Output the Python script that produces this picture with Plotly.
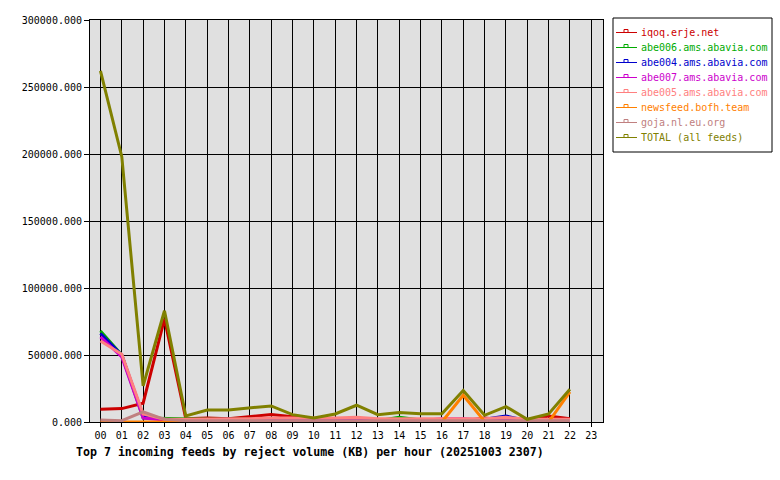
import plotly.graph_objects as go

hours = ["%02d" % h for h in range(24)]

iqoq = [9500, 10000, 14000, 77000, 2500, 3000, 2500, 4000, 5500, 4000, 2500, 2500,
        1500, 1000, 1000, 1000, 1500, 1000, 3000, 1500, 1000, 4500, 2500]
abe006 = [68000, 50000, 3000, 2500, 2500, 2000, 2000, 2000, 2500, 2000, 1500, 1500,
          1500, 1000, 3500, 1500, 1000, 1000, 1500, 1500, 1000, 1000, 1000]
abe004 = [66000, 50000, 4500, 2000, 1500, 1500, 1500, 1500, 2000, 2500, 2500, 1500,
          1500, 1000, 1000, 1000, 1000, 1000, 2000, 4500, 1000, 1000, 1000]
abe007 = [63500, 48500, 3000, 1500, 1500, 2000, 2000, 1500, 1500, 1500, 1000, 1000,
          1000, 1000, 1000, 1000, 2500, 2500, 1500, 1500, 1000, 1000, 1000]
abe005 = [60500, 50500, 6000, 2000, 2000, 2000, 2000, 2500, 3000, 3000, 2500, 3000,
          3500, 2500, 2500, 2500, 2500, 2500, 2500, 3500, 2000, 2000, 2000]
newsfeed = [0, 0, 500, 0, 0, 0, 0, 0, 0, 0, 0, 0,
            0, 0, 0, 0, 0, 20000, 500, 0, 0, 0, 22500]
goja = [1500, 1000, 7500, 2000, 1000, 1000, 1000, 1000, 1000, 1000, 1000, 1000,
        1000, 1000, 1000, 1000, 1000, 1000, 1000, 1000, 1000, 1000, 1000]
total = [262000, 198000, 27000, 83000, 4500, 9000, 9000, 10500, 12000, 5500, 3000, 6000,
         12500, 5500, 7000, 6200, 6200, 23500, 5000, 11500, 2000, 6000, 24500]

series = [
    ("iqoq.erje.net", iqoq, "#cc0000"),
    ("abe006.ams.abavia.com", abe006, "#00aa00"),
    ("abe004.ams.abavia.com", abe004, "#0000cc"),
    ("abe007.ams.abavia.com", abe007, "#cc00cc"),
    ("abe005.ams.abavia.com", abe005, "#ff8080"),
    ("newsfeed.bofh.team", newsfeed, "#ff8000"),
    ("goja.nl.eu.org", goja, "#c08080"),
    ("TOTAL (all feeds)", total, "#808000"),
]

mono = "DejaVu Sans Mono"
W, H = 780, 480
L, R, T, B = 90, 177, 20, 58
PW, PH = W - L - R, H - T - B


def px(xp):
    return (xp - L) / PW


def py(yp):
    return (H - B - yp) / PH


fig = go.Figure()
for name, vals, col in series:
    fig.add_trace(go.Scatter(
        x=list(range(len(vals))), y=vals, mode="lines", name=name,
        line=dict(color=col, width=3), showlegend=False,
    ))

# legend box (drawn manually to match compact row spacing)
shapes = [dict(type="rect", xref="paper", yref="paper",
               x0=px(613), x1=px(772), y0=py(18), y1=py(152),
               line=dict(color="black", width=1), fillcolor="white", layer="above")]
annotations = []
for i, (name, vals, col) in enumerate(series):
    yy = 32.5 + 15 * i
    shapes.append(dict(type="line", xref="paper", yref="paper",
                       x0=px(616), x1=px(637), y0=py(yy), y1=py(yy),
                       line=dict(color=col, width=1), layer="above"))
    shapes.append(dict(type="rect", xref="paper", yref="paper",
                       x0=px(624), x1=px(628), y0=py(yy), y1=py(yy - 3),
                       line=dict(color=col, width=1), fillcolor="white", layer="above"))
    annotations.append(dict(text=name, xref="paper", yref="paper",
                            x=px(639), y=py(yy), xanchor="left", yanchor="middle",
                            showarrow=False, font=dict(family=mono, size=10, color=col)))

annotations.append(dict(
    text="<b>Top 7 incoming feeds by reject volume (KB) per hour (20251003 2307)</b>",
    xref="paper", yref="paper", x=px(310), y=py(452), xanchor="center", yanchor="middle",
    showarrow=False, font=dict(family=mono, size=11.6, color="black")))

yt = [0, 50000, 100000, 150000, 200000, 250000, 300000]
fig.update_layout(
    width=W, height=H,
    margin=dict(l=L, r=R, t=T, b=B, autoexpand=False),
    paper_bgcolor="white", plot_bgcolor="#e0e0e0",
    font=dict(family=mono, size=10, color="black"),
    showlegend=False,
    xaxis=dict(range=[-0.49, 23.55], tickmode="array", tickvals=list(range(24)),
               ticktext=hours, showgrid=True, gridcolor="black", gridwidth=1,
               ticks="outside", ticklen=4, tickcolor="black", showline=True,
               linecolor="black", mirror=True, zeroline=False, fixedrange=True),
    yaxis=dict(range=[0, 300000], tickmode="array", tickvals=yt,
               ticktext=["%.3f" % v for v in yt],
               showgrid=True, gridcolor="black", gridwidth=1,
               ticks="outside", ticklen=5, tickcolor="black", showline=True,
               linecolor="black", mirror=True, zeroline=False, fixedrange=True),
    shapes=shapes,
    annotations=annotations,
)

fig.write_html("out.html", config={"displayModeBar": False},
               post_script="document.body.style.margin='0px';document.body.style.padding='0px';")
